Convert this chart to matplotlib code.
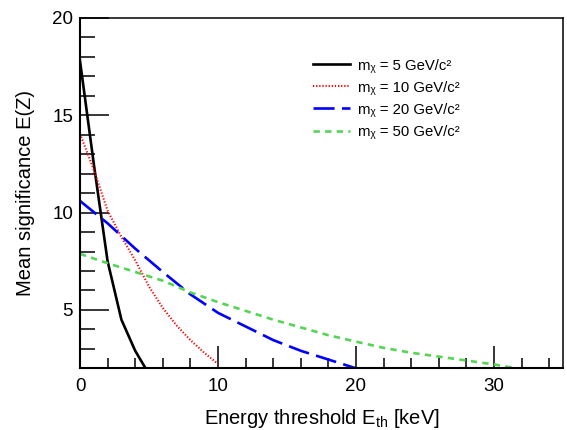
import numpy as np
import matplotlib
matplotlib.use("Agg")
import matplotlib.pyplot as plt
from matplotlib.ticker import MultipleLocator

plt.rcParams['font.family'] = ['Liberation Sans', 'DejaVu Sans']

# Mean significance vs energy threshold, per WIMP mass
e_5 = [0, 1, 2, 3, 4, 5]
z_5 = [17.8, 12.5, 7.5, 4.5, 2.9, 1.7]

e_10 = [0, 1, 2, 3, 4, 5, 6, 7, 8, 9, 10]
z_10 = [14.05, 12.2, 10.1, 8.75, 7.55, 6.2, 5.1, 4.2, 3.45, 2.8, 2.22]

e_20 = [0, 2, 4, 6, 8, 10, 12, 14, 16, 18, 20]
z_20 = [10.6, 9.45, 8.15, 6.95, 5.8, 4.85, 4.15, 3.45, 2.9, 2.45, 2.0]

e_50 = [0, 2, 4, 6, 8, 10, 12, 14, 16, 18, 20, 22, 24, 26, 28, 30, 32]
z_50 = [7.88, 7.4, 6.95, 6.5, 5.9, 5.4, 4.95, 4.5, 4.1, 3.7, 3.37,
        3.05, 2.8, 2.6, 2.4, 2.2, 1.95]

labels = ['m\u1d6a = 5 GeV/c\u00b2',
          'm\u1d6a = 10 GeV/c\u00b2',
          'm\u1d6a = 20 GeV/c\u00b2',
          'm\u1d6a = 50 GeV/c\u00b2']

fig = plt.figure(figsize=(5.67, 4.30), dpi=100)
ax = fig.add_axes([80 / 567, 61.7 / 430, 483 / 567, 350.3 / 430])

ax.plot(e_5, z_5, color='black', lw=1.9, label=labels[0])
ax.plot(e_10, z_10, color='#ff0000', lw=1.5, dashes=(0.6, 0.9), label=labels[1])
ax.plot(e_20, z_20, color='#0000ff', lw=1.9, dashes=(8, 2.8), label=labels[2])
ax.plot(e_50, z_50, color='#55d455', lw=1.9, dashes=(2.4, 2.0), label=labels[3])

ax.set_xlim(0, 35)
ax.set_ylim(2, 20)
ax.xaxis.set_major_locator(MultipleLocator(10))
ax.xaxis.set_minor_locator(MultipleLocator(2))
ax.yaxis.set_major_locator(MultipleLocator(5))
ax.yaxis.set_minor_locator(MultipleLocator(1))

ax.tick_params(axis='both', which='both', direction='in', top=False, right=False,
               width=1.1, labelsize=13.5)
ax.tick_params(axis='x', which='major', length=15.6, pad=7)
ax.tick_params(axis='x', which='minor', length=7.2)
ax.tick_params(axis='y', which='major', length=21, pad=5)
ax.tick_params(axis='y', which='minor', length=10.8)

for side in ['left', 'bottom']:
    ax.spines[side].set_linewidth(1.5)
for side in ['top', 'right']:
    ax.spines[side].set_linewidth(1.1)

ax.set_xlabel(r'Energy threshold E$_{\mathregular{th}}$ [keV]', fontsize=14.5, labelpad=8.5)
ax.set_ylabel('Mean significance E(Z)', fontsize=14.5, labelpad=12)

ax.legend(loc='upper left', bbox_to_anchor=(0.482, 0.884), frameon=False,
          fontsize=10.7, handlelength=2.5, handletextpad=0.54, labelspacing=0.54,
          borderpad=0, borderaxespad=0)

fig.savefig('out.png', dpi=100)
